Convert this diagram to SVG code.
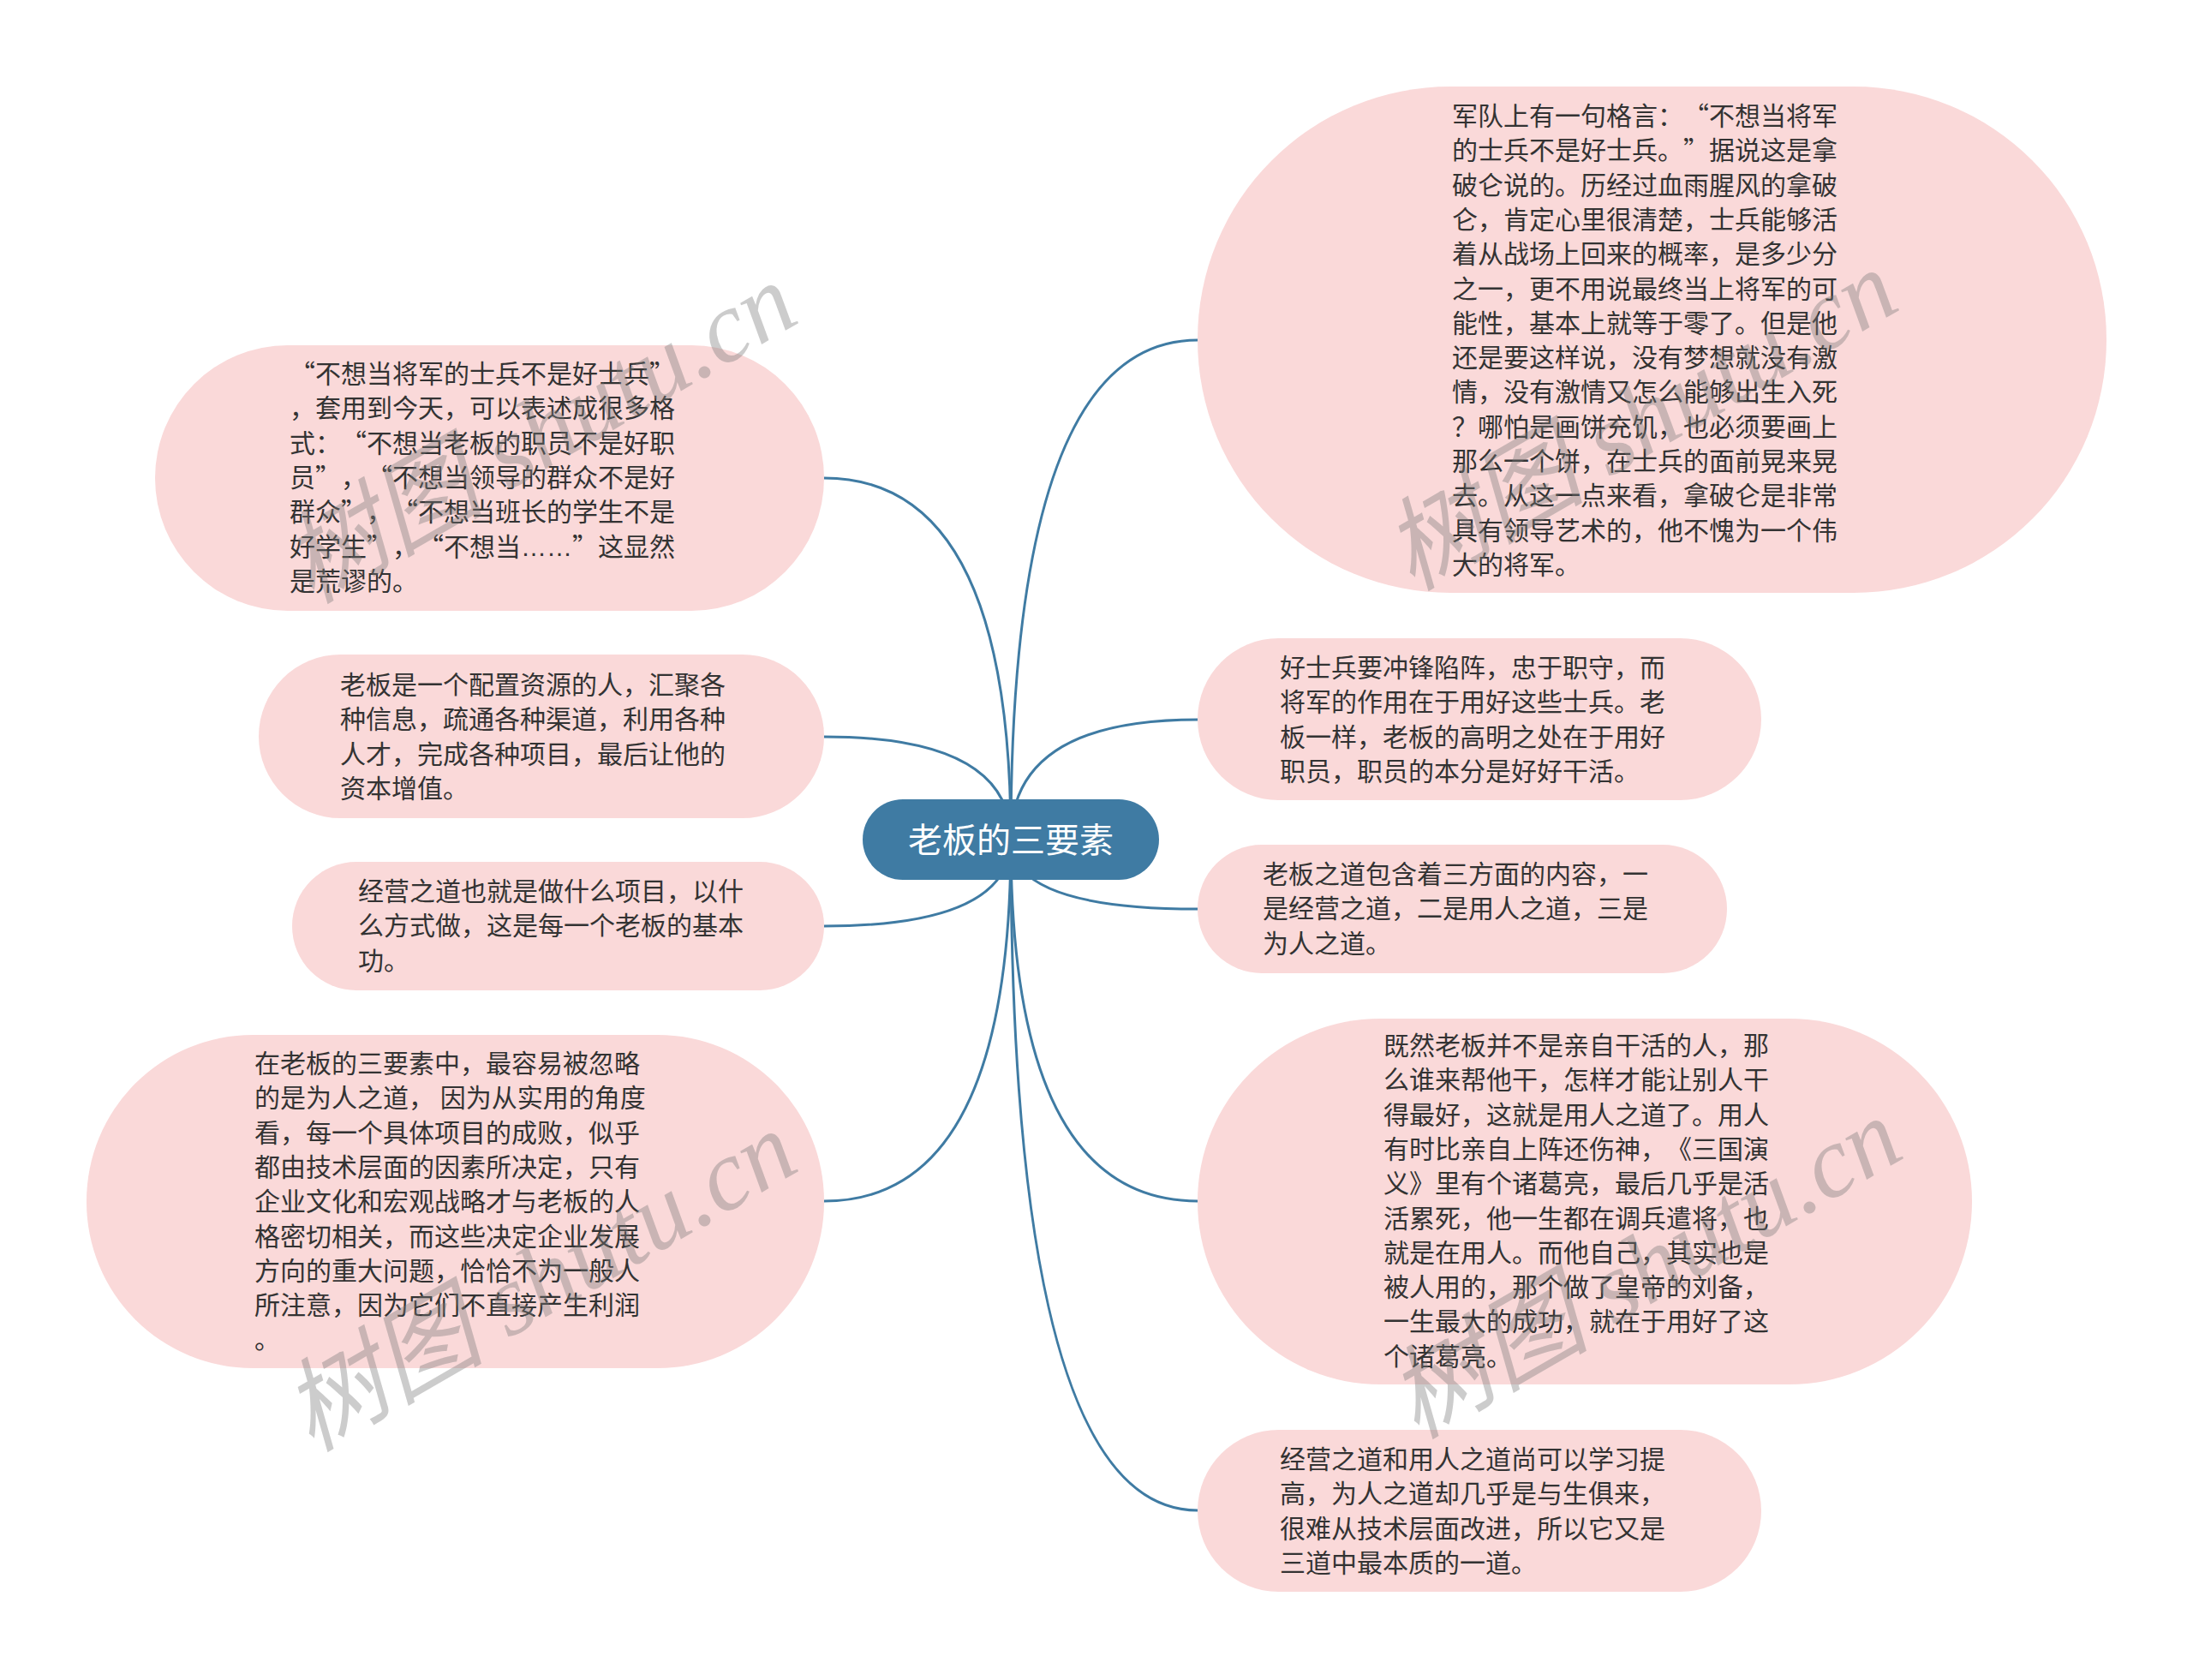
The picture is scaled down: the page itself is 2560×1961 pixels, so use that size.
<svg xmlns="http://www.w3.org/2000/svg" width="2560" height="1961" viewBox="0 0 2560 1961">
<defs>
<style>
.bg{fill:#ffffff}
.node{fill:#fad9d9}
.root{fill:#3f7ba3}
.edge{fill:none;stroke:#3f7ba3;stroke-width:3}
.t{font-family:"Noto Sans CJK SC","Liberation Sans",sans-serif;font-size:30px;fill:#333333;text-spacing-trim:space-all}
.ell{font-family:"Liberation Sans","Noto Sans CJK SC",sans-serif}
.rt{font-family:"Noto Sans CJK SC","Liberation Sans",sans-serif;font-size:40px;fill:#ffffff;text-anchor:middle}
.wm{font-family:"Liberation Serif","Noto Sans CJK SC",serif;font-style:italic;font-size:118px;fill:#7a7a7a;fill-opacity:0.38;text-anchor:middle}
</style>
</defs>
<rect class="bg" x="0" y="0" width="2560" height="1961"/>

<g id="connectors">
<path class="edge" d="M1180,980 Q1180,397 1398,397"/>
<path class="edge" d="M1180,980 Q1180,840 1398,840"/>
<path class="edge" d="M1180,980 Q1180,1061 1398,1061"/>
<path class="edge" d="M1180,980 Q1180,1402 1398,1402"/>
<path class="edge" d="M1180,980 Q1180,1763 1398,1763"/>
<path class="edge" d="M1180,980 Q1180,558 962,558"/>
<path class="edge" d="M1180,980 Q1180,860 962,860"/>
<path class="edge" d="M1180,980 Q1180,1081 962,1081"/>
<path class="edge" d="M1180,980 Q1180,1402 962,1402"/>
</g>

<g id="root">
<rect class="root" x="1007" y="933" width="346" height="94" rx="47" ry="47"/>
<text class="rt" x="1180" y="995">老板的三要素</text>
</g>

<g id="node-r1">
<rect class="node" x="1398" y="101" width="1061" height="591" rx="295" ry="295"/>
<text class="t" x="1695" y="146">
<tspan x="1695">军队上有一句格言：“不想当将军</tspan>
<tspan x="1695" dy="40.3">的士兵不是好士兵。”据说这是拿</tspan>
<tspan x="1695" dy="40.3">破仑说的。历经过血雨腥风的拿破</tspan>
<tspan x="1695" dy="40.3">仑，肯定心里很清楚，士兵能够活</tspan>
<tspan x="1695" dy="40.3">着从战场上回来的概率，是多少分</tspan>
<tspan x="1695" dy="40.3">之一，更不用说最终当上将军的可</tspan>
<tspan x="1695" dy="40.3">能性，基本上就等于零了。但是他</tspan>
<tspan x="1695" dy="40.3">还是要这样说，没有梦想就没有激</tspan>
<tspan x="1695" dy="40.3">情，没有激情又怎么能够出生入死</tspan>
<tspan x="1695" dy="40.3">？哪怕是画饼充饥，也必须要画上</tspan>
<tspan x="1695" dy="40.3">那么一个饼，在士兵的面前晃来晃</tspan>
<tspan x="1695" dy="40.3">去。从这一点来看，拿破仑是非常</tspan>
<tspan x="1695" dy="40.3">具有领导艺术的，他不愧为一个伟</tspan>
<tspan x="1695" dy="40.3">大的将军。</tspan>
</text>
</g>

<g id="node-r2">
<rect class="node" x="1398" y="745" width="658" height="189" rx="94.5" ry="94.5"/>
<text class="t" y="790">
<tspan x="1494">好士兵要冲锋陷阵，忠于职守，而</tspan>
<tspan x="1494" dy="40.3">将军的作用在于用好这些士兵。老</tspan>
<tspan x="1494" dy="40.3">板一样，老板的高明之处在于用好</tspan>
<tspan x="1494" dy="40.3">职员，职员的本分是好好干活。</tspan>
</text>
</g>

<g id="node-r3">
<rect class="node" x="1398" y="986" width="618" height="150" rx="75" ry="75"/>
<text class="t" y="1031">
<tspan x="1474">老板之道包含着三方面的内容，一</tspan>
<tspan x="1474" dy="40.3">是经营之道，二是用人之道，三是</tspan>
<tspan x="1474" dy="40.3">为人之道。</tspan>
</text>
</g>

<g id="node-r4">
<rect class="node" x="1398" y="1189" width="904" height="427" rx="213" ry="213"/>
<text class="t" y="1231">
<tspan x="1615">既然老板并不是亲自干活的人，那</tspan>
<tspan x="1615" dy="40.3">么谁来帮他干，怎样才能让别人干</tspan>
<tspan x="1615" dy="40.3">得最好，这就是用人之道了。用人</tspan>
<tspan x="1615" dy="40.3">有时比亲自上阵还伤神，《三国演</tspan>
<tspan x="1615" dy="40.3">义》里有个诸葛亮，最后几乎是活</tspan>
<tspan x="1615" dy="40.3">活累死，他一生都在调兵遣将，也</tspan>
<tspan x="1615" dy="40.3">就是在用人。而他自己，其实也是</tspan>
<tspan x="1615" dy="40.3">被人用的，那个做了皇帝的刘备，</tspan>
<tspan x="1615" dy="40.3">一生最大的成功，就在于用好了这</tspan>
<tspan x="1615" dy="40.3">个诸葛亮。</tspan>
</text>
</g>

<g id="node-r5">
<rect class="node" x="1398" y="1669" width="658" height="189" rx="94.5" ry="94.5"/>
<text class="t" y="1714">
<tspan x="1494">经营之道和用人之道尚可以学习提</tspan>
<tspan x="1494" dy="40.3">高，为人之道却几乎是与生俱来，</tspan>
<tspan x="1494" dy="40.3">很难从技术层面改进，所以它又是</tspan>
<tspan x="1494" dy="40.3">三道中最本质的一道。</tspan>
</text>
</g>

<g id="node-l1">
<rect class="node" x="181" y="403" width="781" height="310" rx="155" ry="155"/>
<text class="t" y="447">
<tspan x="338">“不想当将军的士兵不是好士兵”</tspan>
<tspan x="338" dy="40.3">，套用到今天，可以表述成很多格</tspan>
<tspan x="338" dy="40.3">式：“不想当老板的职员不是好职</tspan>
<tspan x="338" dy="40.3">员”，“不想当领导的群众不是好</tspan>
<tspan x="338" dy="40.3">群众”，“不想当班长的学生不是</tspan>
<tspan x="338" dy="40.3">好学生”，“不想当<tspan class="ell">……</tspan>”这显然</tspan>
<tspan x="338" dy="40.3">是荒谬的。</tspan>
</text>
</g>

<g id="node-l2">
<rect class="node" x="302" y="764" width="660" height="191" rx="95.5" ry="95.5"/>
<text class="t" y="810">
<tspan x="397">老板是一个配置资源的人，汇聚各</tspan>
<tspan x="397" dy="40.3">种信息，疏通各种渠道，利用各种</tspan>
<tspan x="397" dy="40.3">人才，完成各种项目，最后让他的</tspan>
<tspan x="397" dy="40.3">资本增值。</tspan>
</text>
</g>

<g id="node-l3">
<rect class="node" x="341" y="1006" width="621" height="150" rx="75" ry="75"/>
<text class="t" y="1051">
<tspan x="418">经营之道也就是做什么项目，以什</tspan>
<tspan x="418" dy="40.3">么方式做，这是每一个老板的基本</tspan>
<tspan x="418" dy="40.3">功。</tspan>
</text>
</g>

<g id="node-l4">
<rect class="node" x="101" y="1208" width="861" height="389" rx="194" ry="194"/>
<text class="t" y="1252">
<tspan x="297">在老板的三要素中，最容易被忽略</tspan>
<tspan x="297" dy="40.3">的是为人之道， 因为从实用的角度</tspan>
<tspan x="297" dy="40.3">看，每一个具体项目的成败，似乎</tspan>
<tspan x="297" dy="40.3">都由技术层面的因素所决定，只有</tspan>
<tspan x="297" dy="40.3">企业文化和宏观战略才与老板的人</tspan>
<tspan x="297" dy="40.3">格密切相关，而这些决定企业发展</tspan>
<tspan x="297" dy="40.3">方向的重大问题，恰恰不为一般人</tspan>
<tspan x="297" dy="40.3">所注意，因为它们不直接产生利润</tspan>
<tspan x="297" dy="40.3">。</tspan>
</text>
</g>

<g id="watermark">
<text class="wm" transform="translate(650,540) rotate(-30)">树图 shutu.cn</text>
<text class="wm" transform="translate(1935,525) rotate(-30)">树图 shutu.cn</text>
<text class="wm" transform="translate(650,1530) rotate(-30)">树图 shutu.cn</text>
<text class="wm" transform="translate(1940,1515) rotate(-30)">树图 shutu.cn</text>
</g>
</svg>
